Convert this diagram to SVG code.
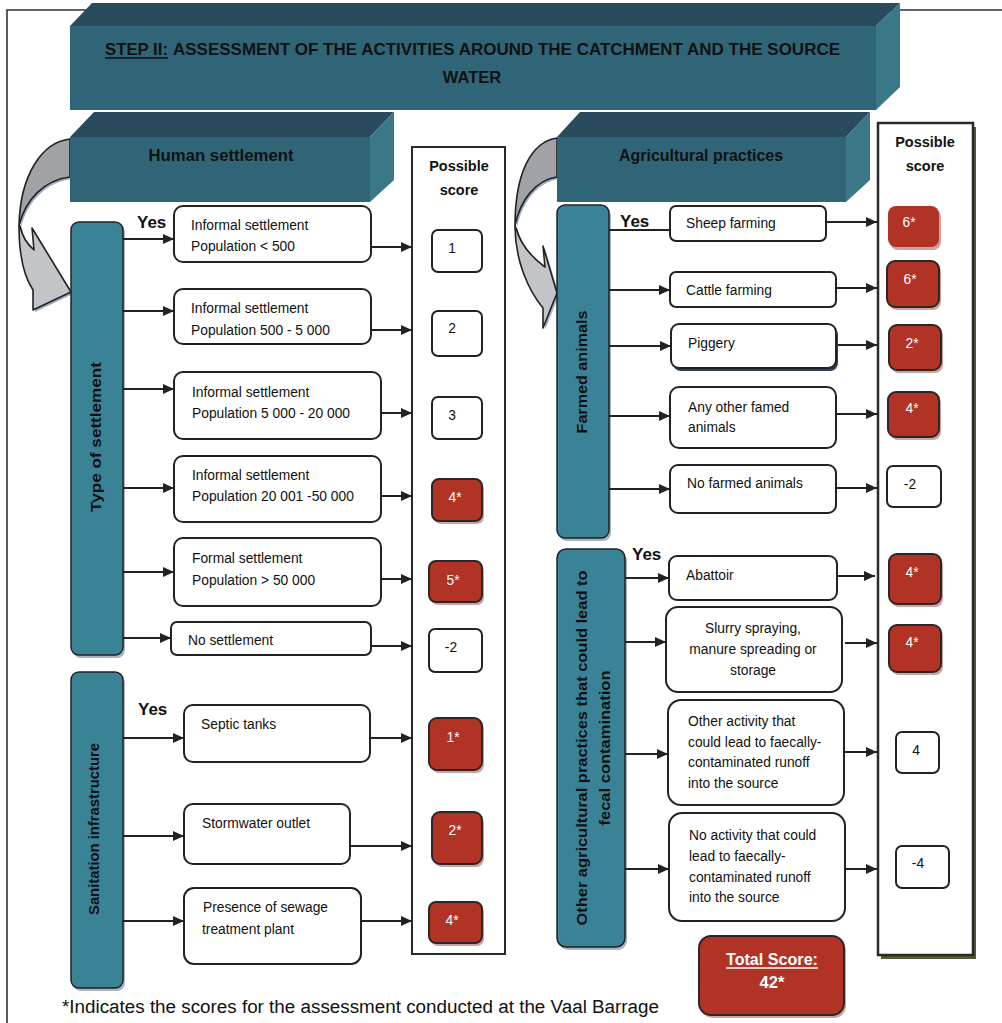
<svg xmlns="http://www.w3.org/2000/svg" width="1002" height="1023" viewBox="0 0 1002 1023">
  <defs>
    <marker id="arr" markerUnits="userSpaceOnUse" markerWidth="11" markerHeight="10" refX="11" refY="5" orient="auto">
      <path d="M0,0 L11,5 L0,10 Z" fill="#222"/>
    </marker>
  </defs>
  <style>
    text { font-family: "Liberation Sans", Arial, sans-serif; fill: #111; }
    .opt { fill: #fff; stroke: #222; stroke-width: 2; }
    .sc { fill: #fff; stroke: #222; stroke-width: 2; }
    .red { fill: #b03326; stroke: #2e2626; stroke-width: 2; }
    .redsh { fill: #caa3a3; }
    .teal { fill: #3a8397; stroke: #222; stroke-width: 1.5; }
    .tealsh { fill: #a9b4c2; }
    .t { font-size: 13.8px; }
    .tw { font-size: 13.8px; fill: #fff; }
    .hd { font-size: 16px; font-weight: bold; fill: #111; }
    .yes { font-size: 17px; font-weight: bold; }
    .vt { font-size: 15px; font-weight: bold; fill: #111; }
    .front { fill: #2f6577; }
    .top { fill: #2a4b5e; }
    .side { fill: #3a7888; }
    .conn line { stroke: #222; stroke-width: 2; }
    .ca-dark { fill: #a1a2a6; stroke: #222; stroke-width: 1.6; stroke-linejoin: round; }
    .ca-light { fill: #c2c4c8; stroke: #222; stroke-width: 1.6; stroke-linejoin: round; }
    .ca-sh { fill: #9eafc6; }
  </style>

  <rect width="1002" height="1023" fill="#fff"/>

  <!-- outer frame -->
  <path d="M7,1023 V10 H1002" fill="none" stroke="#333" stroke-width="1.6"/>

  <!-- curved pointer arrows -->
  <g id="curve-left">
    <g transform="translate(2,2)" class="ca-sh">
      <path d="M70,139 C42,142 20,175 19,226 C25,200 44,180 70,177 Z"/>
      <path d="M19,226 C19,256 25,278 33,290 L33,310 L71,292 L32,228 L34,250 C27,244 22,236 20,226 Z"/>
    </g>
    <path class="ca-light" d="M19,226 C19,256 25,278 33,290 L33,310 L71,292 L32,228 L34,250 C27,244 22,236 20,226 Z"/>
    <path class="ca-dark" d="M70,139 C42,142 20,175 19,226 C25,200 44,180 70,177 Z"/>
  </g>
  <g id="curve-right">
    <g transform="translate(2,2)" class="ca-sh">
      <path d="M557,138 C530,142 515,175 515,226 C520,200 536,180 557,177 Z"/>
      <path d="M515,226 C515,260 528,290 543,308 L543,328 L557,293 L543,246 L545,267 C530,256 520,243 516,228 Z"/>
    </g>
    <path class="ca-light" d="M515,226 C515,260 528,290 543,308 L543,328 L557,293 L543,246 L545,267 C530,256 520,243 516,228 Z"/>
    <path class="ca-dark" d="M557,138 C530,142 515,175 515,226 C520,200 536,180 557,177 Z"/>
  </g>

  <!-- title block -->
  <g id="title">
    <polygon class="top" points="70,26 92,3 900,3 876,26"/>
    <polygon class="side" points="876,26 900,3 900,87 876,110"/>
    <rect class="front" x="70" y="26" width="806" height="84"/>
    <text x="105" y="55" font-size="16.5" font-weight="bold" textLength="63" lengthAdjust="spacingAndGlyphs">STEP II:</text>
    <line x1="105" y1="58" x2="168" y2="58" stroke="#111" stroke-width="1.3"/>
    <text x="173" y="55" font-size="16.5" font-weight="bold" textLength="667" lengthAdjust="spacingAndGlyphs">ASSESSMENT OF THE ACTIVITIES AROUND THE CATCHMENT AND THE SOURCE</text>
    <text x="472" y="83" font-size="16.5" font-weight="bold" text-anchor="middle">WATER</text>
  </g>

  <!-- section headers -->
  <g id="hdr-human">
    <polygon class="top" points="70,137 94,112 394,112 370,137"/>
    <polygon class="side" points="370,137 394,112 394,180 370,202"/>
    <rect class="front" x="70" y="137" width="300" height="65"/>
    <text class="hd" x="221" y="161" text-anchor="middle" textLength="145" lengthAdjust="spacingAndGlyphs">Human settlement</text>
  </g>
  <g id="hdr-agri">
    <polygon class="top" points="557,137 580,112 870,112 846,137"/>
    <polygon class="side" points="846,137 870,112 870,180 846,202"/>
    <rect class="front" x="557" y="137" width="289" height="65"/>
    <text class="hd" x="701" y="161" text-anchor="middle" textLength="164" lengthAdjust="spacingAndGlyphs">Agricultural practices</text>
  </g>

  <!-- score columns -->
  <g id="col-score-left">
    <rect x="412" y="147" width="93" height="807" fill="#fff" stroke="#2a2a2a" stroke-width="2"/>
    <text x="459" y="171" font-size="14.5" font-weight="bold" text-anchor="middle">Possible</text>
    <text x="459" y="195" font-size="14.5" font-weight="bold" text-anchor="middle">score</text>
  </g>
  <g id="col-score-right">
    <rect x="881" y="127" width="95" height="832" fill="#525b30"/>
    <rect x="878" y="123" width="95" height="832" fill="#fff" stroke="#2a2a2a" stroke-width="2.5"/>
    <text x="925" y="147" font-size="14.5" font-weight="bold" text-anchor="middle">Possible</text>
    <text x="925" y="171" font-size="14.5" font-weight="bold" text-anchor="middle">score</text>
  </g>

  <!-- category columns -->
  <g id="cat-type">
    <rect class="tealsh" x="73" y="225" width="52" height="433" rx="8"/>
    <rect class="teal" x="71" y="222" width="52" height="433" rx="8"/>
    <text class="vt" transform="translate(101,437) rotate(-90)" text-anchor="middle" textLength="150" lengthAdjust="spacingAndGlyphs">Type of settlement</text>
  </g>
  <g id="cat-sanitation">
    <rect class="tealsh" x="73" y="675" width="52" height="316" rx="8"/>
    <rect class="teal" x="71" y="672" width="52" height="316" rx="8"/>
    <text class="vt" transform="translate(99,829) rotate(-90)" text-anchor="middle" textLength="172" lengthAdjust="spacingAndGlyphs">Sanitation infrastructure</text>
  </g>
  <g id="cat-farmed">
    <rect class="tealsh" x="559" y="208" width="52" height="333" rx="8"/>
    <rect class="teal" x="557" y="205" width="52" height="333" rx="8"/>
    <text class="vt" transform="translate(587,372) rotate(-90)" text-anchor="middle" textLength="123" lengthAdjust="spacingAndGlyphs">Farmed animals</text>
  </g>
  <g id="cat-other">
    <rect class="tealsh" x="559" y="552" width="68" height="398" rx="9"/>
    <rect class="teal" x="557" y="549" width="68" height="398" rx="9"/>
    <text class="vt" transform="translate(587,748) rotate(-90)" text-anchor="middle" textLength="355" lengthAdjust="spacingAndGlyphs">Other agricultural practices that could lead to</text>
    <text class="vt" transform="translate(610,748) rotate(-90)" text-anchor="middle" textLength="155" lengthAdjust="spacingAndGlyphs">fecal contamination</text>
  </g>

  <!-- yes labels -->
  <text class="yes" x="137" y="228">Yes</text>
  <text class="yes" x="138" y="715">Yes</text>
  <text class="yes" x="620" y="227">Yes</text>
  <text class="yes" x="632" y="560">Yes</text>

  <!-- connectors -->
  <g id="connectors" class="conn">
    <line x1="123" y1="239" x2="174" y2="239" marker-end="url(#arr)"/>
    <line x1="123" y1="311" x2="174" y2="311" marker-end="url(#arr)"/>
    <line x1="123" y1="389" x2="174" y2="389" marker-end="url(#arr)"/>
    <line x1="123" y1="488" x2="174" y2="488" marker-end="url(#arr)"/>
    <line x1="123" y1="572" x2="174" y2="572" marker-end="url(#arr)"/>
    <line x1="123" y1="638" x2="171" y2="638" marker-end="url(#arr)"/>
    <line x1="123" y1="738" x2="184" y2="738" marker-end="url(#arr)"/>
    <line x1="123" y1="836" x2="184" y2="836" marker-end="url(#arr)"/>
    <line x1="123" y1="921" x2="184" y2="921" marker-end="url(#arr)"/>

    <line x1="371" y1="247" x2="412" y2="247" marker-end="url(#arr)"/>
    <line x1="371" y1="330" x2="412" y2="330" marker-end="url(#arr)"/>
    <line x1="381" y1="413" x2="412" y2="413" marker-end="url(#arr)"/>
    <line x1="381" y1="496" x2="412" y2="496" marker-end="url(#arr)"/>
    <line x1="381" y1="579" x2="412" y2="579" marker-end="url(#arr)"/>
    <line x1="371" y1="646" x2="412" y2="646" marker-end="url(#arr)"/>
    <line x1="370" y1="738" x2="412" y2="738" marker-end="url(#arr)"/>
    <line x1="350" y1="846" x2="412" y2="846" marker-end="url(#arr)"/>
    <line x1="360" y1="921" x2="412" y2="921" marker-end="url(#arr)"/>

    <line x1="609" y1="230" x2="670" y2="230"/>
    <line x1="609" y1="290" x2="670" y2="290" marker-end="url(#arr)"/>
    <line x1="609" y1="346" x2="671" y2="346" marker-end="url(#arr)"/>
    <line x1="609" y1="416" x2="670" y2="416" marker-end="url(#arr)"/>
    <line x1="609" y1="489" x2="670" y2="489" marker-end="url(#arr)"/>
    <line x1="625" y1="578" x2="669" y2="578" marker-end="url(#arr)"/>
    <line x1="625" y1="642" x2="666" y2="642" marker-end="url(#arr)"/>
    <line x1="625" y1="754" x2="668" y2="754" marker-end="url(#arr)"/>
    <line x1="625" y1="869" x2="669" y2="869" marker-end="url(#arr)"/>

    <line x1="826" y1="222" x2="877" y2="222" marker-end="url(#arr)"/>
    <line x1="836" y1="288" x2="877" y2="288" marker-end="url(#arr)"/>
    <line x1="836" y1="345" x2="877" y2="345" marker-end="url(#arr)"/>
    <line x1="836" y1="414" x2="877" y2="414" marker-end="url(#arr)"/>
    <line x1="836" y1="488" x2="877" y2="488" marker-end="url(#arr)"/>
    <line x1="837" y1="576" x2="875" y2="576" marker-end="url(#arr)"/>
    <line x1="845" y1="643" x2="877" y2="643" marker-end="url(#arr)"/>
    <line x1="844" y1="752" x2="877" y2="752" marker-end="url(#arr)"/>
    <line x1="845" y1="869" x2="877" y2="869" marker-end="url(#arr)"/>
  </g>

  <!-- settlement options -->
  <g id="opt-informal-500">
    <rect class="opt" x="174" y="206" width="197" height="56" rx="9"/>
    <text class="t" x="191" y="230">Informal settlement</text>
    <text class="t" x="191" y="251">Population &lt; 500</text>
  </g>
  <g id="opt-informal-5000">
    <rect class="opt" x="174" y="289" width="197" height="55" rx="9"/>
    <text class="t" x="191" y="313">Informal settlement</text>
    <text class="t" x="191" y="335">Population 500 - 5 000</text>
  </g>
  <g id="opt-informal-20000">
    <rect class="opt" x="174" y="372" width="207" height="67" rx="9"/>
    <text class="t" x="192" y="397">Informal settlement</text>
    <text class="t" x="192" y="418">Population 5 000 - 20 000</text>
  </g>
  <g id="opt-informal-50000">
    <rect class="opt" x="174" y="456" width="207" height="66" rx="9"/>
    <text class="t" x="192" y="480">Informal settlement</text>
    <text class="t" x="192" y="501">Population 20 001 -50 000</text>
  </g>
  <g id="opt-formal">
    <rect class="opt" x="174" y="538" width="207" height="68" rx="9"/>
    <text class="t" x="192" y="563">Formal settlement</text>
    <text class="t" x="192" y="585">Population &gt; 50 000</text>
  </g>
  <g id="opt-none">
    <rect class="opt" x="171" y="622" width="200" height="33" rx="6"/>
    <text class="t" x="188" y="645">No settlement</text>
  </g>
  <g id="opt-septic">
    <rect class="opt" x="184" y="705" width="186" height="57" rx="9"/>
    <text class="t" x="201" y="729">Septic tanks</text>
  </g>
  <g id="opt-storm">
    <rect class="opt" x="184" y="804" width="166" height="60" rx="9"/>
    <text class="t" x="202" y="828">Stormwater outlet</text>
  </g>
  <g id="opt-sewage">
    <rect class="opt" x="184" y="888" width="177" height="76" rx="10"/>
    <text class="t" x="203" y="912">Presence of sewage</text>
    <text class="t" x="202" y="934">treatment plant</text>
  </g>

  <!-- left scores -->
  <g id="sc-l1"><rect class="sc" x="432" y="230" width="50" height="42" rx="6"/><text class="t" x="452" y="253" text-anchor="middle">1</text></g>
  <g id="sc-l2"><rect class="sc" x="432" y="311" width="50" height="45" rx="6"/><text class="t" x="452" y="333" text-anchor="middle">2</text></g>
  <g id="sc-l3"><rect class="sc" x="432" y="397" width="50" height="42" rx="6"/><text class="t" x="452" y="420" text-anchor="middle">3</text></g>
  <g id="sc-l4"><rect class="redsh" x="434" y="482" width="50" height="42" rx="7"/><rect class="red" x="432" y="479" width="50" height="42" rx="7"/><text class="tw" x="455" y="502" text-anchor="middle">4*</text></g>
  <g id="sc-l5"><rect class="redsh" x="431" y="564" width="53" height="41" rx="7"/><rect class="red" x="429" y="561" width="53" height="41" rx="7"/><text class="tw" x="453" y="585" text-anchor="middle">5*</text></g>
  <g id="sc-l6"><rect class="sc" x="429" y="629" width="53" height="43" rx="6"/><text class="t" x="451" y="652" text-anchor="middle">-2</text></g>
  <g id="sc-l7"><rect class="redsh" x="431" y="721" width="53" height="52" rx="8"/><rect class="red" x="429" y="718" width="53" height="52" rx="8"/><text class="tw" x="453" y="742" text-anchor="middle">1*</text></g>
  <g id="sc-l8"><rect class="redsh" x="434" y="815" width="50" height="52" rx="8"/><rect class="red" x="432" y="812" width="50" height="52" rx="8"/><text class="tw" x="455" y="835" text-anchor="middle">2*</text></g>
  <g id="sc-l9"><rect class="redsh" x="431" y="905" width="53" height="41" rx="7"/><rect class="red" x="429" y="902" width="53" height="41" rx="7"/><text class="tw" x="452" y="925" text-anchor="middle">4*</text></g>

  <!-- agricultural options -->
  <g id="opt-sheep">
    <rect class="opt" x="670" y="206" width="156" height="35" rx="6"/>
    <text class="t" x="686" y="228">Sheep farming</text>
  </g>
  <g id="opt-cattle">
    <rect class="opt" x="670" y="272" width="166" height="35" rx="6"/>
    <text class="t" x="686" y="295">Cattle farming</text>
  </g>
  <g id="opt-piggery">
    <rect fill="#2d3e5a" x="673" y="327" width="165" height="44" rx="8"/>
    <rect class="opt" x="671" y="324" width="165" height="44" rx="8"/>
    <text class="t" x="688" y="348">Piggery</text>
  </g>
  <g id="opt-other-animals">
    <rect class="opt" x="670" y="387" width="166" height="61" rx="9"/>
    <text class="t" x="688" y="412">Any other famed</text>
    <text class="t" x="688" y="432">animals</text>
  </g>
  <g id="opt-no-animals">
    <rect class="opt" x="670" y="465" width="166" height="48" rx="8"/>
    <text class="t" x="687" y="488">No farmed animals</text>
  </g>
  <g id="opt-abattoir">
    <rect class="opt" x="669" y="556" width="168" height="44" rx="8"/>
    <text class="t" x="686" y="580">Abattoir</text>
  </g>
  <g id="opt-slurry">
    <rect class="opt" x="666" y="607" width="176" height="85" rx="12"/>
    <text class="t" x="753" y="633" text-anchor="middle">Slurry spraying,</text>
    <text class="t" x="753" y="654" text-anchor="middle">manure spreading or</text>
    <text class="t" x="753" y="675" text-anchor="middle">storage</text>
  </g>
  <g id="opt-other-activity">
    <rect class="opt" x="668" y="700" width="176" height="105" rx="13"/>
    <text class="t" x="688" y="726">Other activity that</text>
    <text class="t" x="688" y="747">could lead to faecally-</text>
    <text class="t" x="688" y="767">contaminated runoff</text>
    <text class="t" x="688" y="788">into the source</text>
  </g>
  <g id="opt-no-activity">
    <rect class="opt" x="669" y="813" width="176" height="108" rx="13"/>
    <text class="t" x="689" y="840">No activity that could</text>
    <text class="t" x="689" y="861">lead to faecally-</text>
    <text class="t" x="689" y="882">contaminated runoff</text>
    <text class="t" x="689" y="902">into the source</text>
  </g>

  <!-- right scores -->
  <g id="sc-r1"><rect class="redsh" x="890" y="209" width="51" height="41" rx="8"/><rect x="888" y="206" width="51" height="41" rx="8" fill="#b03326"/><text class="tw" x="909" y="227" text-anchor="middle">6*</text></g>
  <g id="sc-r2"><rect class="redsh" x="889" y="264" width="52" height="46" rx="8"/><rect class="red" x="887" y="261" width="52" height="46" rx="8"/><text class="tw" x="910" y="284" text-anchor="middle">6*</text></g>
  <g id="sc-r3"><rect class="redsh" x="891" y="328" width="52" height="45" rx="8"/><rect class="red" x="889" y="325" width="52" height="45" rx="8"/><text class="tw" x="912" y="348" text-anchor="middle">2*</text></g>
  <g id="sc-r4"><rect class="redsh" x="890" y="395" width="51" height="45" rx="8"/><rect class="red" x="888" y="392" width="51" height="45" rx="8"/><text class="tw" x="912" y="413" text-anchor="middle">4*</text></g>
  <g id="sc-r5"><rect class="sc" x="887" y="466" width="54" height="41" rx="6"/><text class="t" x="910" y="489" text-anchor="middle">-2</text></g>
  <g id="sc-r6"><rect class="redsh" x="891" y="557" width="52" height="50" rx="8"/><rect class="red" x="889" y="554" width="52" height="50" rx="8"/><text class="tw" x="912" y="577" text-anchor="middle">4*</text></g>
  <g id="sc-r7"><rect class="redsh" x="891" y="628" width="52" height="47" rx="8"/><rect class="red" x="889" y="625" width="52" height="47" rx="8"/><text class="tw" x="912" y="647" text-anchor="middle">4*</text></g>
  <g id="sc-r8"><rect class="sc" x="896" y="732" width="43" height="41" rx="6"/><text class="t" x="916" y="755" text-anchor="middle">4</text></g>
  <g id="sc-r9"><rect class="sc" x="896" y="846" width="53" height="42" rx="6"/><text class="t" x="918" y="868" text-anchor="middle">-4</text></g>

  <!-- total -->
  <g id="total">
    <rect class="redsh" x="701" y="939" width="145" height="79" rx="12"/>
    <rect class="red" x="699" y="936" width="145" height="79" rx="12"/>
    <text x="772" y="965" font-size="16.5" font-weight="bold" text-anchor="middle" style="fill:#fff" textLength="92" lengthAdjust="spacingAndGlyphs">Total Score:</text>
    <line x1="726" y1="968" x2="818" y2="968" stroke="#fff" stroke-width="1.3"/>
    <text x="772" y="988" font-size="16.5" font-weight="bold" text-anchor="middle" style="fill:#fff">42*</text>
  </g>

  <!-- footnote -->
  <text x="62" y="1013" font-size="18" textLength="597" lengthAdjust="spacingAndGlyphs">*Indicates the scores for the assessment conducted at the Vaal Barrage</text>
</svg>
